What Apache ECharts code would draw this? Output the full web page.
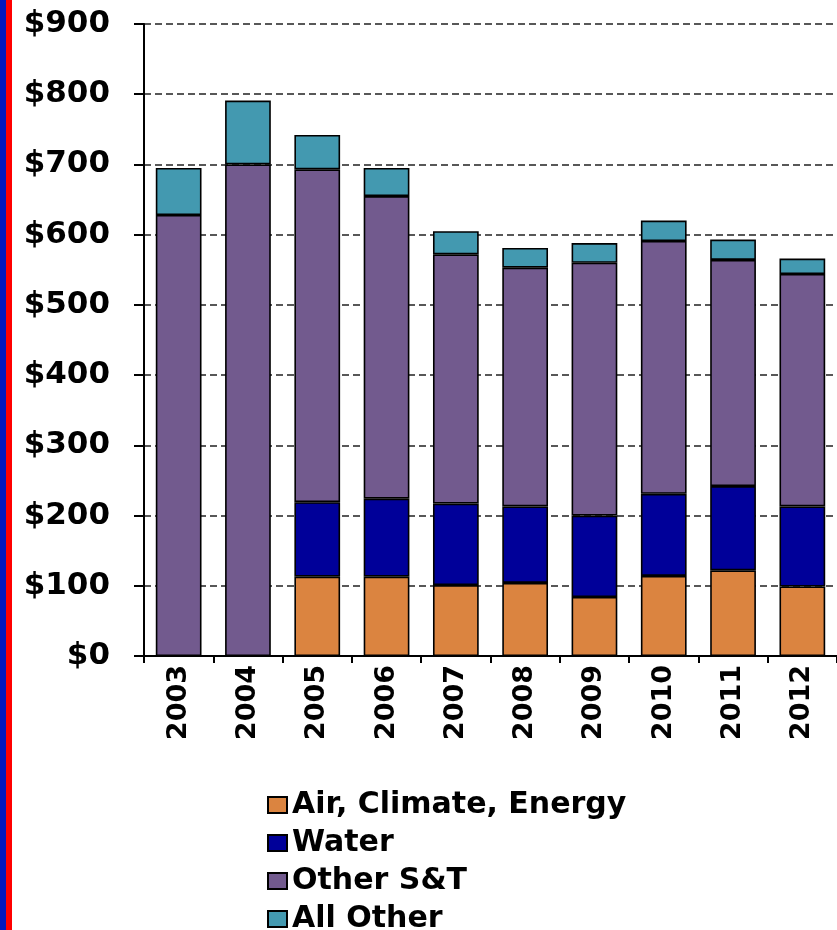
<!DOCTYPE html>
<html>
<head>
<meta charset="utf-8">
<script src="https://cdn.jsdelivr.net/npm/echarts@6/dist/echarts.min.js"></script>
<style>
html,body{margin:0;padding:0;background:#fff;}
#chart{width:837px;height:930px;}
</style>
</head>
<body>
<div id="chart"></div>
<script>
const years = ['2003','2004','2005','2006','2007','2008','2009','2010','2011','2012'];
const airClimateEnergy = [null, null, 113, 113, 101, 104, 84, 114, 122, 99];
const water = [null, null, 106, 111, 116, 109, 116, 117, 120, 114];
const otherST = [628, 700, 474, 431, 355, 340, 360, 360, 322, 331];
const allOther = [67, 91, 49, 40, 33, 28, 28, 29, 29, 22];
const yTicks = [0, 100, 200, 300, 400, 500, 600, 700, 800, 900];

const font = 'DejaVu Sans';
const chart = echarts.init(document.getElementById('chart'), null, {renderer: 'canvas'});

function mk(name, data, color) {
  return {
    name: name, type: 'bar', stack: 'total', data: data, barWidth: '66%',
    itemStyle: {color: color, borderColor: '#000', borderWidth: 1.6},
    emphasis: {disabled: true}
  };
}

chart.setOption({
  animation: false,
  backgroundColor: '#fff',
  graphic: [
    {type: 'rect', left: 0, top: 0, shape: {width: 6, height: 930}, style: {fill: '#0018C0'}},
    {type: 'rect', left: 6, top: 0, shape: {width: 6, height: 930}, style: {fill: '#FF0000'}}
  ],
  grid: {left: 144, top: 24, width: 697, height: 632, containLabel: false},
  legend: {
    orient: 'vertical', left: 262, top: 785, width: 560, height: 160,
    itemWidth: 19, itemHeight: 16, itemGap: 8,
    icon: 'rect',
    textStyle: {fontFamily: font, fontWeight: 'bold', fontSize: 30, color: '#000', lineHeight: 30},
    data: ['Air, Climate, Energy', 'Water', 'Other S&T', 'All Other']
  },
  xAxis: {
    type: 'category', data: years,
    axisLine: {lineStyle: {color: '#000', width: 2}},
    axisTick: {show: true, length: 7, lineStyle: {color: '#000', width: 2}},
    axisLabel: {rotate: 90, margin: 9, fontFamily: font, fontWeight: 'bold', fontSize: 27, color: '#000', interval: 0}
  },
  yAxis: {
    type: 'value', min: yTicks[0], max: yTicks[yTicks.length - 1], interval: 100,
    axisLine: {show: true, lineStyle: {color: '#000', width: 2}},
    axisTick: {show: true, length: 10, lineStyle: {color: '#000', width: 2}},
    axisLabel: {margin: 34, fontFamily: font, fontWeight: 'bold', fontSize: 31, color: '#000',
      formatter: function (v) { return '$' + v; }},
    splitLine: {show: true, lineStyle: {color: '#222', width: 1.5, type: [7, 4]}}
  },
  series: [
    mk('Air, Climate, Energy', airClimateEnergy, '#DB8440'),
    mk('Water', water, '#000099'),
    mk('Other S&T', otherST, '#725A8E'),
    mk('All Other', allOther, '#4399B0')
  ]
});
</script>
</body>
</html>
